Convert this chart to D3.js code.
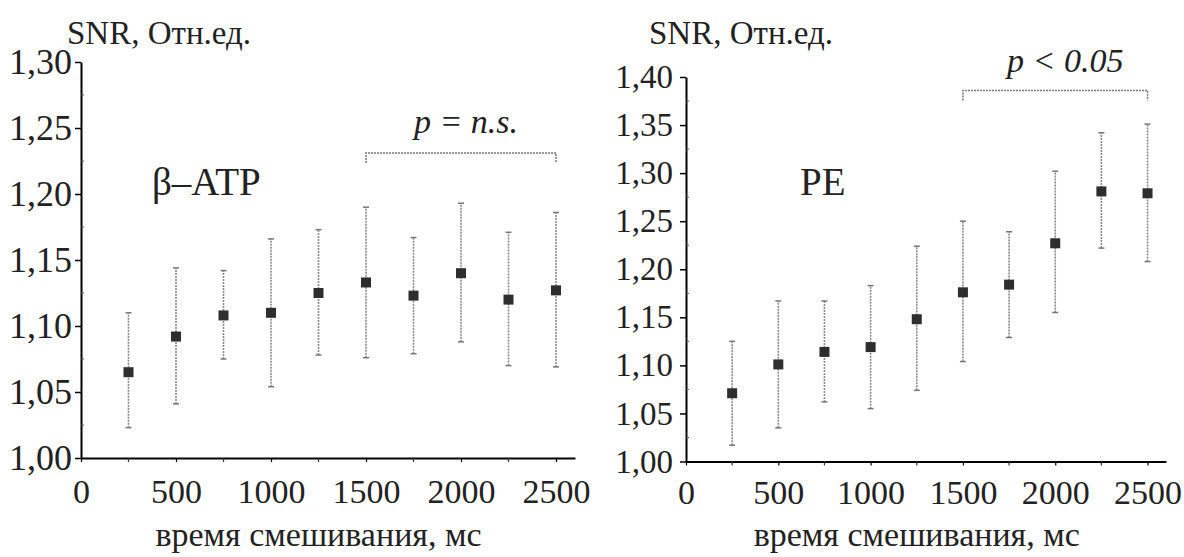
<!DOCTYPE html>
<html>
<head>
<meta charset="utf-8">
<script src="https://cdn.jsdelivr.net/npm/d3@7"></script>
<style>
    html, body { margin: 0; padding: 0; background: #fff; }
    svg text { font-family: "Liberation Serif", "Times New Roman", Times, "DejaVu Serif", serif !important; }
</style>
</head>
<body>
<div id="chart"></div>
<script>
// время смешивания, мс
const mixTimes = [250, 500, 750, 1000, 1250, 1500, 1750, 2000, 2250, 2500];

// β-ATP: среднее и границы планок погрешности
const atpMean = [1.065, 1.092, 1.108, 1.110, 1.125, 1.133, 1.123, 1.140, 1.120, 1.127];
const atpLow  = [1.023, 1.041, 1.075, 1.054, 1.078, 1.076, 1.079, 1.088, 1.070, 1.069];
const atpHigh = [1.110, 1.144, 1.142, 1.166, 1.173, 1.190, 1.167, 1.193, 1.171, 1.186];

// PE
const peMean = [1.071, 1.101, 1.114, 1.119, 1.148, 1.176, 1.184, 1.227, 1.281, 1.279];
const peLow  = [1.017, 1.035, 1.062, 1.055, 1.074, 1.104, 1.129, 1.155, 1.222, 1.208];
const peHigh = [1.125, 1.167, 1.167, 1.183, 1.224, 1.250, 1.239, 1.302, 1.342, 1.351];

const xTicks = [0, 500, 1000, 1500, 2000, 2500];
const atpYTicks = [1.00, 1.05, 1.10, 1.15, 1.20, 1.25, 1.30];
const peYTicks = [1.00, 1.05, 1.10, 1.15, 1.20, 1.25, 1.30, 1.35, 1.40];

// скобки значимости: [начало, конец, уровень]
const atpBracket = [1500, 2500, 1.231];
const peBracket = [1500, 2500, 1.386];

const yLabelText = "SNR, Отн.ед.";
const xLabelText = "время смешивания, мс";

const width = 1184;
const height = 557;

const svg = d3.select("#chart").append("svg")
    .attr("width", width)
    .attr("height", height);

const commaFormat = d3.formatLocale({ decimal: ",", thousands: " ", grouping: [3], currency: ["", ""] }).format(".2f");

/**
 * Рисует одну панель с точками и планками погрешности.
 */
function drawPanel(opts) {
    const g = svg.append("g");
    const x = d3.scaleLinear().domain([0, 2600]).range(opts.xRange);
    const y = d3.scaleLinear().domain(opts.yDomain).range(opts.yRange);

    // оси
    const yAxis = g.append("g")
        .attr("transform", `translate(${opts.xRange[0]},0)`)
        .call(d3.axisLeft(y).tickValues(opts.yTicks).tickFormat(commaFormat).tickSize(6).tickPadding(opts.yPad).tickSizeOuter(0));
    yAxis.select(".domain").attr("stroke-width", 2);
    yAxis.selectAll(".tick line").attr("stroke-width", 1.5);
    yAxis.selectAll(".tick text")
        .attr("font-size", opts.yFont)
        .attr("fill", "#222");

    // мелкие деления по оси Y
    const minorY = d3.range(opts.yDomain[0] + 0.025, opts.yDomain[1], 0.05);
    g.append("g").selectAll("line")
        .data(minorY)
        .enter().append("line")
        .attr("x1", opts.xRange[0])
        .attr("x2", opts.xRange[0] + 3)
        .attr("y1", d => y(d))
        .attr("y2", d => y(d))
        .attr("stroke", "#555")
        .attr("stroke-width", 1);

    const xAxis = g.append("g")
        .attr("transform", `translate(0,${opts.yRange[0]})`)
        .call(d3.axisBottom(x).tickValues(xTicks).tickFormat(d3.format("d")).tickSize(4).tickPadding(opts.xPad).tickSizeOuter(0));
    xAxis.select(".domain").attr("stroke-width", 2);
    xAxis.selectAll(".tick line").attr("stroke-width", 1.2);
    xAxis.selectAll(".tick text")
        .attr("font-size", 34)
        .attr("fill", "#222");

    // мелкие деления по оси X
    g.append("g").selectAll("line")
        .data(mixTimes.filter(t => t % 500 !== 0))
        .enter().append("line")
        .attr("x1", d => x(d))
        .attr("x2", d => x(d))
        .attr("y1", opts.yRange[0])
        .attr("y2", opts.yRange[0] + 4)
        .attr("stroke", "#333")
        .attr("stroke-width", 1.2);

    const points = mixTimes.map((t, i) => ({ t: t, mean: opts.mean[i], low: opts.low[i], high: opts.high[i] }));

    // планки погрешности
    const bars = g.append("g");
    bars.selectAll("line.err")
        .data(points)
        .enter().append("line")
        .attr("class", "err")
        .attr("x1", d => x(d.t))
        .attr("x2", d => x(d.t))
        .attr("y1", d => y(d.low))
        .attr("y2", d => y(d.high))
        .attr("stroke", "#8a8a8a")
        .attr("stroke-width", 1.6)
        .attr("stroke-dasharray", "2,1");
    ["low", "high"].forEach(key => {
        bars.selectAll("line.cap-" + key)
            .data(points)
            .enter().append("line")
            .attr("class", "cap-" + key)
            .attr("x1", d => x(d.t) - 3)
            .attr("x2", d => x(d.t) + 3)
            .attr("y1", d => y(d[key]))
            .attr("y2", d => y(d[key]))
            .attr("stroke", "#777")
            .attr("stroke-width", 1.5);
    });

    // точки
    g.append("g").selectAll("rect")
        .data(points)
        .enter().append("rect")
        .attr("x", d => x(d.t) - 5)
        .attr("y", d => y(d.mean) - 5)
        .attr("width", 10)
        .attr("height", 10)
        .attr("fill", "#2e2e2e");

    // скобка значимости
    const b = opts.bracket;
    const bx1 = x(b[0]), bx2 = x(b[1]), by = y(b[2]);
    g.append("path")
        .attr("d", `M${bx1},${by + 10}V${by}H${bx2}V${by + 10}`)
        .attr("fill", "none")
        .attr("stroke", "#777")
        .attr("stroke-width", 1.5)
        .attr("stroke-dasharray", "2,1");
    g.append("text")
        .attr("x", (bx1 + bx2) / 2 + opts.pShift)
        .attr("y", by - opts.pGap)
        .attr("text-anchor", "middle")
        .attr("font-size", 34)
        .attr("font-style", "italic")
        .attr("fill", "#222")
        .text(opts.pText);

    // подписи
    g.append("text")
        .attr("x", opts.yLabelX)
        .attr("y", 44)
        .attr("font-size", 33)
        .attr("fill", "#222")
        .text(yLabelText);
    g.append("text")
        .attr("x", x(1250))
        .attr("y", 546)
        .attr("text-anchor", "middle")
        .attr("font-size", 34)
        .attr("fill", "#222")
        .text(xLabelText);
    g.append("text")
        .attr("x", opts.nameX)
        .attr("y", 195)
        .attr("font-size", 39)
        .attr("fill", "#222")
        .text(opts.name);
}

drawPanel({
    xRange: [81, 575],
    yDomain: [1.0, 1.3],
    yRange: [458, 62],
    yTicks: atpYTicks,
    yFont: 36,
    yPad: 3,
    xPad: 17,
    mean: atpMean,
    low: atpLow,
    high: atpHigh,
    bracket: atpBracket,
    pText: "p = n.s.",
    pShift: 5,
    pGap: 20,
    yLabelX: 67,
    nameX: 152,
    name: "β–ATP"
});

drawPanel({
    xRange: [686, 1166],
    yDomain: [1.0, 1.4],
    yRange: [461.5, 77],
    yTicks: peYTicks,
    yFont: 33,
    yPad: 7,
    xPad: 14,
    mean: peMean,
    low: peLow,
    high: peHigh,
    bracket: peBracket,
    pText: "p < 0.05",
    pShift: 10,
    pGap: 18,
    yLabelX: 649,
    nameX: 800,
    name: "PE"
});
</script>
</body>
</html>
